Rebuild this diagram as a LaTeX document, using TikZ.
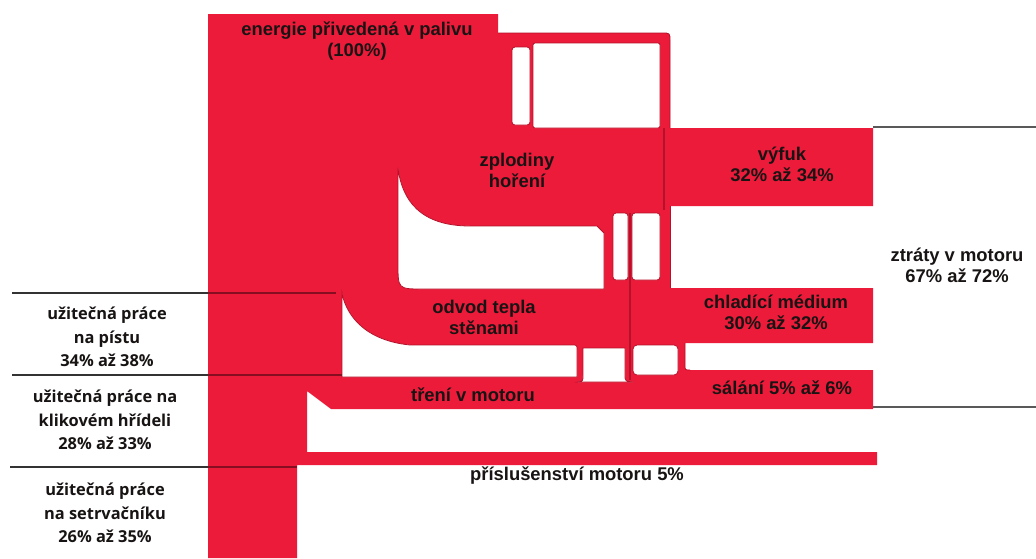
\documentclass[tikz,border=0pt]{standalone}
\usepackage{fontspec}
\setmainfont{Liberation Sans}
\newfontfamily\leftfont{Open Sans}
\definecolor{engred}{RGB}{236,27,58}
\definecolor{edgered}{RGB}{180,18,42}
\definecolor{txt}{RGB}{25,20,20}
\begin{document}
\begin{tikzpicture}[x=1pt,y=-1pt,
  flow/.style={fill=engred},
  hole/.style={fill=white,draw=edgered,line width=0.8pt},
  edge/.style={draw=edgered,line width=0.8pt},
  darkline/.style={draw=edgered,line width=1.3pt},
  lbl/.style={font=\fontsize{18.4}{21}\selectfont\bfseries,text=txt,align=center,inner sep=0pt},
  leftlbl/.style={font=\leftfont\fontsize{16.4}{23.5}\selectfont\bfseries,text=txt,align=center,inner sep=0pt},
  rule/.style={draw=black!80,line width=1.3pt},
  innerrule/.style={draw=edgered!75!black,line width=1.3pt}]

\useasboundingbox[fill=white] (0,0) rectangle (1036,558);

% main flow body
\path[flow] (208,14) -- (498,14) -- (498,33) -- (662,33) .. controls (670,33) .. (670,41)
  -- (670,128) -- (873,128) -- (873,206) -- (670,206) -- (670,288) -- (873,288)
  -- (873,343) -- (685,343) -- (685,365) .. controls (685,370) .. (690,370) -- (873,370)
  -- (873,409) -- (331,409) -- (307,391) -- (307,452) -- (877,452) -- (877,465)
  -- (297,465) -- (297,558) -- (208,558) -- cycle;

% tube outline
\draw[edge] (498,33) -- (662,33) .. controls (670,33) .. (670,41) -- (670,128);
\draw[edge] (670,206) -- (670,288);
\draw[edge] (685,343) -- (685,365) .. controls (685,370) .. (690,370);

% holes
\draw[hole,rounded corners=3pt] (512,47) rectangle (530,125);
\draw[hole,rounded corners=2pt] (533,43) rectangle (660,128);
\draw[hole] (398,168) .. controls (402,200) and (420,226) .. (470,226) -- (597,226) -- (604,233)
  -- (604,289) -- (423,289) .. controls (398,289) .. (398,264) -- cycle;
\draw[hole,rounded corners=3pt] (613,213) rectangle (628,280);
\draw[hole,rounded corners=3pt] (632,213) rectangle (660,280);
\draw[hole] (342,293) .. controls (345,310) and (360,340) .. (410,345) -- (572,345)
  .. controls (577,345) .. (577,350) -- (577,377) -- (342,377) -- cycle;
\draw[hole] (583,348) -- (625,348) -- (625,375) .. controls (625,381) .. (633,382)
  -- (578,382) .. controls (583,381) .. (583,375) -- cycle;
\draw[hole,rounded corners=4pt] (633,345) rectangle (678,375);

% dark inner lines
\draw[darkline] (664,128) -- (664,210);
\draw[darkline] (630,213) -- (630,380);

% rules on the left
\coordinate (l1a) at (12,293); \coordinate (l1b) at (208,293); \coordinate (l1c) at (336,293);
\coordinate (l2a) at (12,375); \coordinate (l2b) at (208,375); \coordinate (l2c) at (342,375);
\coordinate (l3a) at (10,467); \coordinate (l3b) at (208,467); \coordinate (l3c) at (297,467);
\draw[rule] (l1a) -- (l1b); \draw[innerrule] (l1b) -- (l1c);
\draw[rule] (l2a) -- (l2b); \draw[innerrule] (l2b) -- (l2c);
\draw[rule] (l3a) -- (l3b); \draw[innerrule] (l3b) -- (l3c);
% rules on the right
\coordinate (r1a) at (873,127); \coordinate (r1b) at (1036,127);
\coordinate (r2a) at (873,407); \coordinate (r2b) at (1036,407);
\draw[rule,draw=black!65] (r1a) -- (r1b);
\draw[rule,draw=black!65] (r2a) -- (r2b);

% labels
\node[lbl] (energie) at (357,41) {energie přivedená v palivu\\(100\%)};
\node[lbl] (zplod) at (517,170) {zplodiny\\hoření};
\node[lbl] (vyfuk) at (782,164) {výfuk\\32\% až 34\%};
\node[lbl] (ztraty) at (957,265) {ztráty v motoru\\67\% až 72\%};
\node[lbl] (chlad) at (776,312) {chladící médium\\30\% až 32\%};
\node[lbl] (salani) at (782,388) {sálání 5\% až 6\%};
\node[lbl] (odvod) at (484,317) {odvod tepla\\stěnami};
\node[lbl] (treni) at (473,395) {tření v motoru};
\node[lbl] (prisl) at (577,476) {příslušenství motoru 5\%};
\node[leftlbl] (piston) at (107,337) {užitečná práce\\na pístu\\34\% až 38\%};
\node[leftlbl] (kliky) at (105,420) {užitečná práce na\\klikovém hřídeli\\28\% až 33\%};
\node[leftlbl] (setrv) at (105,513) {užitečná práce\\na setrvačníku\\26\% až 35\%};
\end{tikzpicture}
\end{document}
